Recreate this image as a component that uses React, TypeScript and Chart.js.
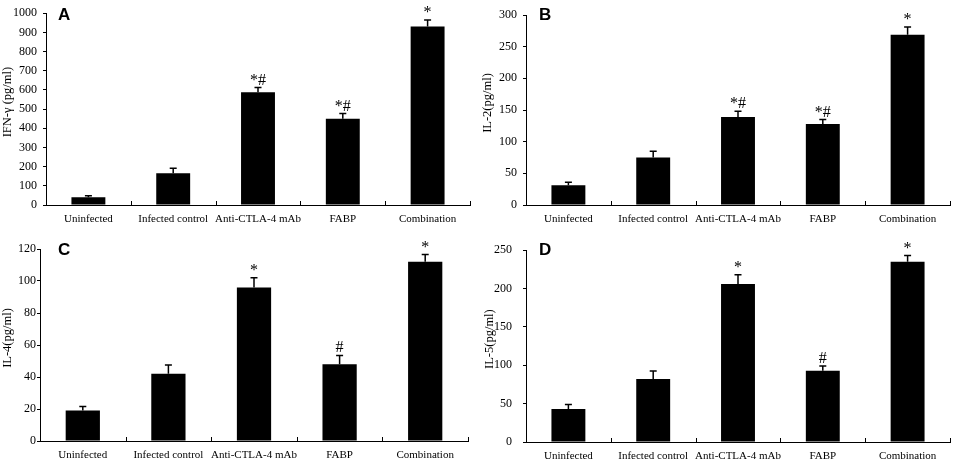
import { useEffect, useRef } from "react"
import { Chart, registerables } from "chart.js"

Chart.register(...registerables)
Chart.defaults.font.family = '"Liberation Serif", "Times New Roman", serif'
Chart.defaults.color = "#000"

const groups = ["Uninfected", "Infected control", "Anti-CTLA-4 mAb", "FABP", "Combination"]

// means and SD (upper error bar only)
const ifnValues = [40, 166, 588, 450, 931]
const ifnSd = [8, 26, 24, 27, 34]
const ifnMarks = ["", "", "*#", "*#", "*"]

const il2Values = [31, 75, 139, 128, 269]
const il2Sd = [5, 10, 9, 7, 12]
const il2Marks = ["", "", "*#", "*#", "*"]

const il4Values = [19, 42, 96, 48, 112]
const il4Sd = [2.5, 5.5, 6, 5.5, 4.5]
const il4Marks = ["", "", "*", "#", "*"]

const il5Values = [43, 82, 206, 93, 235]
const il5Sd = [6, 10.5, 12, 6, 8]
const il5Marks = ["", "", "*", "#", "*"]

const panels = [
  { letter: "A", title: "IFN-\u03b3 (pg/ml)", values: ifnValues, sd: ifnSd, marks: ifnMarks, max: 1000, step: 100,
    x: 0, y: 0, w: 478, h: 232, left: 46, right: 470, top: 13, bottom: 205, tickPad: 6, letterDx: 12, letterY: 20, titleX: 8 },
  { letter: "B", title: "IL-2(pg/ml)", values: il2Values, sd: il2Sd, marks: il2Marks, max: 300, step: 50,
    x: 479, y: 0, w: 478, h: 232, left: 47, right: 471, top: 15, bottom: 205, tickPad: 6, letterDx: 13, letterY: 20, titleX: 9 },
  { letter: "C", title: "IL-4(pg/ml)", values: il4Values, sd: il4Sd, marks: il4Marks, max: 120, step: 20,
    x: 0, y: 232, w: 478, h: 233, left: 40, right: 468, top: 17, bottom: 209, tickPad: 1, letterDx: 18, letterY: 23, titleX: 8 },
  { letter: "D", title: "IL-5(pg/ml)", values: il5Values, sd: il5Sd, marks: il5Marks, max: 250, step: 50,
    x: 479, y: 232, w: 478, h: 233, left: 47, right: 471, top: 16, bottom: 210, tickPad: 11, letterDx: 13, letterY: 23, titleX: 11 },
]

type PanelDef = (typeof panels)[number]

function Panel({ p }: { p: PanelDef }) {
  const ref = useRef<HTMLCanvasElement>(null)

  useEffect(() => {
    if (!ref.current) return

    const extras = {
      id: "extras",
      afterDatasetsDraw(chart: any) {
        const { ctx, chartArea } = chart
        const xs = chart.scales.x
        const ys = chart.scales.y
        const meta = chart.getDatasetMeta(0)
        ctx.save()
        ctx.strokeStyle = "#000"
        ctx.fillStyle = "#000"

        // error bars + significance marks
        meta.data.forEach((bar: any, i: number) => {
          const top = ys.getPixelForValue(p.values[i] + p.sd[i])
          ctx.lineWidth = 1.5
          ctx.beginPath()
          ctx.moveTo(bar.x, bar.y)
          ctx.lineTo(bar.x, top)
          ctx.moveTo(bar.x - 3.5, top)
          ctx.lineTo(bar.x + 3.5, top)
          ctx.stroke()
          if (p.marks[i]) {
            ctx.font = '16px "Liberation Serif"'
            ctx.textAlign = "center"
            ctx.textBaseline = "alphabetic"
            ctx.fillText(p.marks[i], bar.x, top - 3)
          }
        })

        // category divider ticks, pointing up into the plot
        ctx.lineWidth = 1
        const half = (xs.getPixelForValue(1) - xs.getPixelForValue(0)) / 2
        for (let i = 0; i < groups.length; i++) {
          const px = Math.round(xs.getPixelForValue(i) + half) + 0.5
          ctx.beginPath()
          ctx.moveTo(px, chartArea.bottom)
          ctx.lineTo(px, chartArea.bottom - 4)
          ctx.stroke()
        }

        // y-axis title, sitting a little above the axis middle
        ctx.save()
        ctx.translate(p.titleX, (chartArea.top + chartArea.bottom) / 2 - 7)
        ctx.rotate(-Math.PI / 2)
        ctx.font = '12.5px "Liberation Serif"'
        ctx.textAlign = "center"
        ctx.textBaseline = "middle"
        ctx.fillText(p.title, 0, 0)
        ctx.restore()

        // panel letter
        ctx.font = 'bold 17px "Liberation Sans"'
        ctx.textAlign = "left"
        ctx.textBaseline = "alphabetic"
        ctx.fillText(p.letter, chartArea.left + p.letterDx, p.letterY)
        ctx.restore()
      },
    }

    const chart = new Chart(ref.current, {
      type: "bar",
      data: {
        labels: groups,
        datasets: [
          {
            data: p.values,
            backgroundColor: "#000",
            borderWidth: 0,
            barPercentage: 0.4,
            categoryPercentage: 1,
          },
        ],
      },
      options: {
        responsive: false,
        animation: false,
        layout: { padding: { top: p.top, right: p.w - p.right, left: 0, bottom: 0 } },
        plugins: { legend: { display: false }, tooltip: { enabled: false } },
        scales: {
          x: {
            grid: { display: false, drawTicks: false },
            border: { color: "#000", width: 1 },
            ticks: { font: { size: 11 }, padding: 8, maxRotation: 0, autoSkip: false },
            afterFit: (scale: any) => {
              scale.height = p.h - p.bottom
            },
          },
          y: {
            min: 0,
            max: p.max,
            grid: { drawOnChartArea: false, tickLength: 3, color: "#000" },
            border: { color: "#000", width: 1 },
            ticks: { stepSize: p.step, font: { size: 12 }, padding: p.tickPad, callback: (v: any) => String(v) },
            afterFit: (scale: any) => {
              scale.width = p.left
            },
          },
        },
      },
      plugins: [extras],
    })

    return () => chart.destroy()
  }, [p])

  return (
    <div style={{ position: "absolute", left: p.x, top: p.y, width: p.w, height: p.h }}>
      <canvas ref={ref} width={p.w} height={p.h}></canvas>
    </div>
  )
}

export default function App() {
  return (
    <div style={{ position: "absolute", left: 0, top: 0, width: 957, height: 465, background: "#fff" }}>
      {panels.map((p) => (
        <Panel key={p.letter} p={p} />
      ))}
    </div>
  )
}
